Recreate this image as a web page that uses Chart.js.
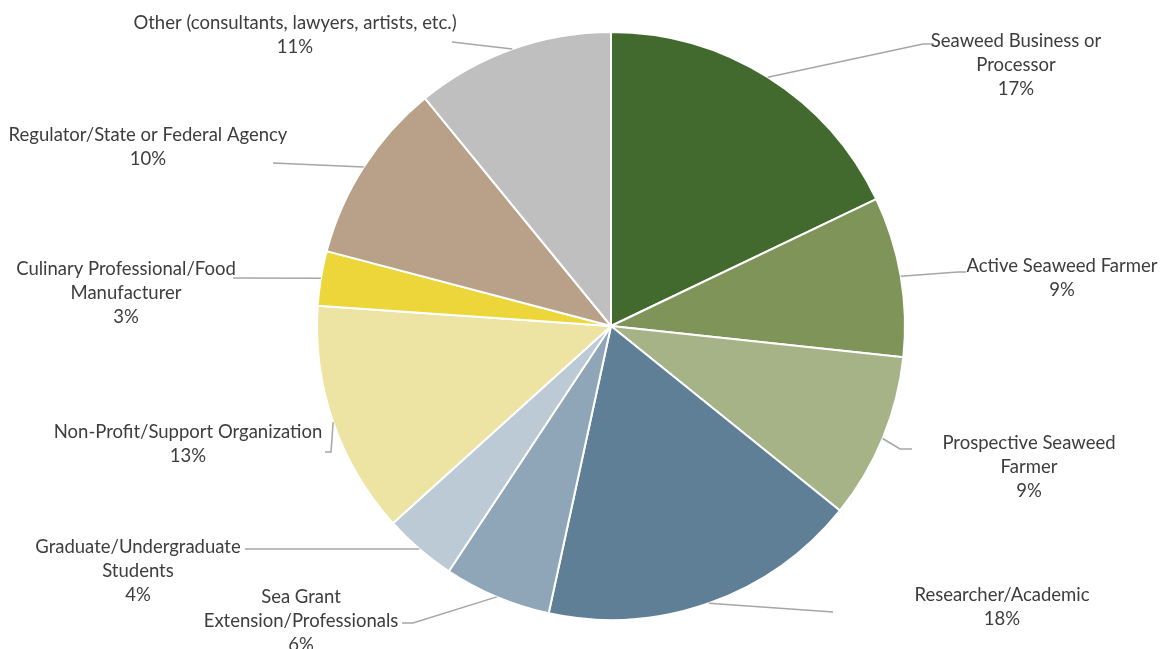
<!DOCTYPE html>
<html>
<head>
<meta charset="utf-8">
<script src="https://cdn.jsdelivr.net/npm/chart.js@4.4.1/dist/chart.umd.min.js"></script>
<style>
  html, body { margin: 0; padding: 0; background: #ffffff; }
  #wrap { width: 1160px; height: 649px; position: relative; }
</style>
</head>
<body>
<div id="wrap"><canvas id="c" width="1160" height="649"></canvas></div>
<script>
// ---- Data (clockwise from 12 o'clock) ----
const categories = [
  "Seaweed Business or Processor",
  "Active Seaweed Farmer",
  "Prospective Seaweed Farmer",
  "Researcher/Academic",
  "Sea Grant Extension/Professionals",
  "Graduate/Undergraduate Students",
  "Non-Profit/Support Organization",
  "Culinary Professional/Food Manufacturer",
  "Regulator/State or Federal Agency",
  "Other (consultants, lawyers, artists, etc.)"
];
// slice shares (percent)
const shares = [17.9, 8.8, 9.1, 17.6, 5.9, 4.0, 12.8, 3.0, 10.0, 10.9];
// percentages as printed on the labels
const pctLabels = ["17%", "9%", "9%", "18%", "6%", "4%", "13%", "3%", "10%", "11%"];
// label text lines as wrapped in the picture
const labelLines = [
  ["Seaweed Business or", "Processor"],
  ["Active Seaweed Farmer"],
  ["Prospective Seaweed", "Farmer"],
  ["Researcher/Academic"],
  ["Sea Grant", "Extension/Professionals"],
  ["Graduate/Undergraduate", "Students"],
  ["Non-Profit/Support Organization"],
  ["Culinary Professional/Food", "Manufacturer"],
  ["Regulator/State or Federal Agency"],
  ["Other (consultants, lawyers, artists, etc.)"]
];
const colors = [
  "#426a2e", "#7f9459", "#a5b387", "#5f7f97", "#8fa6b9",
  "#bccad6", "#ede4a3", "#ecd63a", "#b8a188", "#bfbfbf"
];

// ---- Layout of labels (positions / leader paths) ----
const labelPos = [
  {x: 1016, y: 41},
  {x: 1062, y: 266},
  {x: 1029, y: 443},
  {x: 1002, y: 595},
  {x: 301,  y: 597},
  {x: 138,  y: 547},
  {x: 188,  y: 432},
  {x: 126,  y: 269},
  {x: 148,  y: 135},
  {x: 295,  y: 23}
];
const leaderPath = [
  [[923, 44], [934, 44]],
  [[958, 272], [966, 272]],
  [[900, 449], [912, 449]],
  [[833, 612]],
  [[413, 623], [402, 623]],
  [[245, 549]],
  [[331, 452], [325, 452]],
  [[233, 278]],
  [[273, 163]],
  [[452, 42]]
];

const labelPlugin = {
  id: 'pieLabels',
  afterDatasetsDraw(chart) {
    const ctx = chart.ctx;
    const meta = chart.getDatasetMeta(0);
    ctx.save();
    // leader lines
    ctx.strokeStyle = '#a6a6a6';
    ctx.lineWidth = 1.5;
    meta.data.forEach((arc, i) => {
      const p = arc.getProps(['x', 'y', 'startAngle', 'endAngle', 'outerRadius'], true);
      const mid = (p.startAngle + p.endAngle) / 2;
      const sx = p.x + Math.cos(mid) * p.outerRadius;
      const sy = p.y + Math.sin(mid) * p.outerRadius;
      ctx.beginPath();
      ctx.moveTo(sx, sy);
      leaderPath[i].forEach(pt => ctx.lineTo(pt[0], pt[1]));
      ctx.stroke();
    });
    // texts
    ctx.fillStyle = '#3d3d3d';
    ctx.font = '18.5px Lato, "Open Sans", sans-serif';
    ctx.textAlign = 'center';
    ctx.textBaseline = 'middle';
    const lh = 24;
    meta.data.forEach((arc, i) => {
      const lines = labelLines[i].concat([pctLabels[i]]);
      lines.forEach((t, k) => {
        ctx.fillText(t, labelPos[i].x, labelPos[i].y + k * lh);
      });
    });
    ctx.restore();
  }
};

new Chart(document.getElementById('c'), {
  type: 'pie',
  data: {
    labels: categories,
    datasets: [{
      data: shares,
      backgroundColor: colors,
      borderColor: '#ffffff',
      borderWidth: 2,
      radius: 294
    }]
  },
  options: {
    responsive: false,
    animation: false,
    layout: { padding: { left: 62, right: 0, top: 3, bottom: 0 } },
    plugins: {
      legend: { display: false },
      tooltip: { enabled: false }
    }
  },
  plugins: [labelPlugin]
});
</script>
</body>
</html>
